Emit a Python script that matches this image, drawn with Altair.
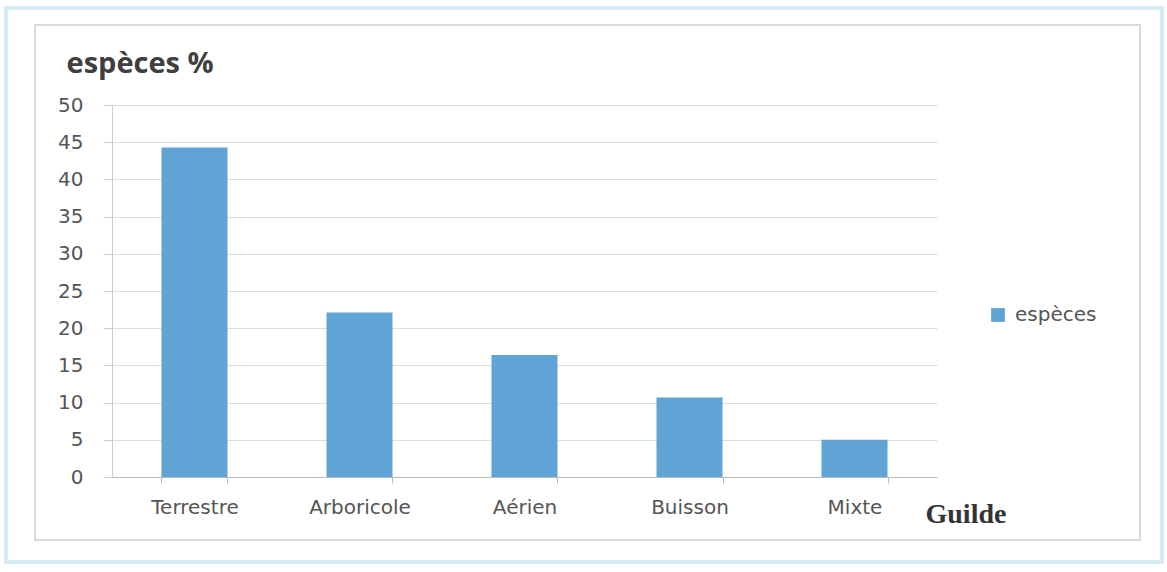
import altair as alt
import pandas as pd

categories = ["Terrestre", "Arboricole", "Aérien", "Buisson", "Mixte"]
values = [44.3, 22.1, 16.4, 10.7, 5.0]
series_name = ["espèces"] * len(categories)
y_ticks = [0, 5, 10, 15, 20, 25, 30, 35, 40, 45, 50]

df = pd.DataFrame({"Guilde": categories, "pct": values, "serie": series_name})

W, H = 825, 372
LEFT, TOP = 112, 105

bars = alt.Chart(df).mark_bar(color="#5fa4d4").encode(
    x=alt.X(
        "Guilde:N",
        sort=categories,
        scale=alt.Scale(paddingInner=0.6, paddingOuter=0.3),
        axis=alt.Axis(
            title="Guilde",
            titleFont="Liberation Serif",
            titleFontSize=28,
            titleFontWeight="bold",
            titleColor="#333333",
            titleAlign="left",
            titleBaseline="alphabetic",
            titleX=813,
            titleY=45,
            labelFont="DejaVu Sans",
            labelFontSize=20,
            labelColor="#555555",
            labelAngle=0,
            labelPadding=14,
            tickBand="extent",
            tickSize=6,
            tickColor="#bbbbbb",
            domainColor="#bbbbbb",
            grid=False,
        ),
    ),
    y=alt.Y(
        "pct:Q",
        scale=alt.Scale(domain=[0, 50]),
        axis=alt.Axis(
            values=y_ticks,
            title="espèces %",
            titleFont="Open Sans",
            titleFontSize=29,
            titleFontWeight="bold",
            titleColor="#3f3f3f",
            titleAngle=0,
            titleAlign="left",
            titleBaseline="alphabetic",
            titleX=-46,
            titleY=-33,
            labelFont="DejaVu Sans",
            labelFontSize=20,
            labelColor="#555555",
            labelPadding=20,
            tickSize=9,
            tickColor="#cccccc",
            domainColor="#cccccc",
            gridColor="#dddddd",
            gridWidth=1,
        ),
    ),
    fill=alt.Fill(
        "serie:N",
        scale=alt.Scale(range=["#5fa4d4"]),
        legend=alt.Legend(
            title=None,
            orient="none",
            legendX=876,
            legendY=200,
            symbolType="square",
            symbolSize=190,
            symbolStrokeWidth=0,
            labelFont="DejaVu Sans",
            labelFontSize=20,
            labelColor="#555555",
            labelOffset=7,
        ),
    ),
)

frame = alt.Chart(df).mark_rect(fill=None, stroke="#d9d9d9", strokeWidth=1.5, clip=False).encode(
    x=alt.value(35 - LEFT), x2=alt.value(1140 - LEFT),
    y=alt.value(25 - TOP), y2=alt.value(540 - TOP),
)
outer = alt.Chart(df).mark_rect(fill=None, stroke="#d6ebf4", strokeWidth=3, clip=False).encode(
    x=alt.value(6 - LEFT), x2=alt.value(1162 - LEFT),
    y=alt.value(8 - TOP), y2=alt.value(562 - TOP),
)

chart = alt.layer(outer, frame, bars).properties(
    width=W,
    height=H,
    autosize=alt.AutoSizeParams(type="none"),
    padding={"left": LEFT, "top": TOP, "right": 1167 - LEFT - W, "bottom": 572 - TOP - H},
    background="white",
).configure_view(stroke=None)

chart.save("out.html", embed_options={"renderer": "svg", "actions": False})
